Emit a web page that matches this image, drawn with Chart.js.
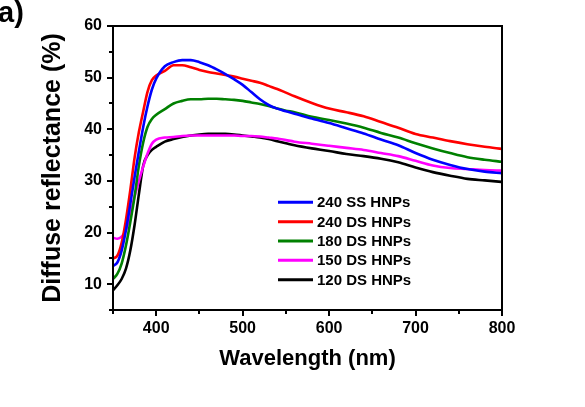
<!DOCTYPE html>
<html>
<head>
<meta charset="utf-8">
<script src="https://cdn.jsdelivr.net/npm/chart.js@4"></script>
<style>
  html, body { margin: 0; padding: 0; background: #fff; }
  #wrap { position: relative; width: 585px; height: 407px; }
  #panel { position: absolute; left: -2px; top: -4px; font: bold 29px "Liberation Sans", Arial, sans-serif; }
</style>
</head>
<body>
<div id="wrap">
  <canvas id="chart" width="585" height="407"></canvas>
  <div id="panel">a)</div>
</div>
<script>
const wavelengths = [350, 355, 360, 365, 370, 375, 380, 385, 390, 395,
  400, 410, 420, 430, 440, 450, 460, 470, 480, 490, 500, 510, 520, 530, 540, 550, 560,
  580, 600, 620, 640, 660, 680, 700, 720, 740, 760, 780, 800];

const ss240 = [13.5, 14.2, 16.5, 20.5, 25.5, 30.8, 35.8, 40.5, 44.5, 47.7,
  49.8, 52.2, 53.0, 53.4, 53.4, 53.0, 52.4, 51.6, 50.7, 49.7, 48.6, 47.2, 45.8, 44.7, 44.0, 43.5, 43.0,
  42.1, 41.2, 40.2, 39.2, 38.0, 36.9, 35.4, 34.1, 33.1, 32.3, 31.8, 31.5];
const ds240 = [15.0, 15.5, 18.0, 22.5, 28.2, 34.5, 39.5, 43.5, 47.3, 49.5,
  50.4, 51.3, 52.4, 52.4, 52.0, 51.5, 51.1, 50.8, 50.5, 50.2, 49.8, 49.4, 49.0, 48.4, 47.8, 47.1, 46.4,
  45.1, 44.0, 43.3, 42.5, 41.4, 40.3, 39.1, 38.4, 37.7, 37.1, 36.6, 36.2];
const ds180 = [11.0, 12.0, 14.0, 17.5, 22.0, 27.0, 33.0, 37.5, 40.5, 42.0,
  42.8, 43.9, 45.0, 45.5, 45.8, 45.8, 45.9, 45.9, 45.8, 45.7, 45.5, 45.2, 44.9, 44.5, 44.0, 43.6, 43.3,
  42.4, 41.8, 41.1, 40.3, 39.3, 38.4, 37.3, 36.3, 35.4, 34.6, 34.1, 33.7];
const ds150 = [19.0, 18.8, 19.2, 20.5, 23.5, 27.0, 30.0, 32.8, 35.3, 37.2,
  38.0, 38.4, 38.5, 38.7, 38.8, 38.8, 38.8, 38.8, 38.8, 38.8, 38.7, 38.7, 38.6, 38.4, 38.2, 37.9, 37.6,
  37.2, 36.8, 36.4, 36.0, 35.4, 34.8, 33.9, 33.0, 32.5, 32.3, 32.1, 32.0];
const ds120 = [8.8, 9.8, 11.0, 13.0, 16.5, 21.5, 27.5, 33.0, 35.0, 36.0,
  36.6, 37.6, 38.1, 38.5, 38.8, 39.0, 39.1, 39.1, 39.1, 39.0, 38.8, 38.6, 38.4, 38.1, 37.7, 37.3, 36.9,
  36.3, 35.8, 35.2, 34.8, 34.3, 33.6, 32.6, 31.7, 31.0, 30.4, 30.1, 29.8];

const labels = ["240 SS HNPs", "240 DS HNPs", "180 DS HNPs", "150 DS HNPs", "120 DS HNPs"];
const series = [ss240, ds240, ds180, ds150, ds120];
const colors = ["#0000ff", "#ff0000", "#008000", "#ff00ff", "#000000"];

const font = '"Liberation Sans", Arial, sans-serif';

function points(vals) {
  return vals.map((v, i) => ({ x: wavelengths[i], y: v }));
}

const isMajorX = v => v % 100 === 0;
const isMajorY = v => v % 10 === 0;

// box round the plot, short minor ticks, legend inside
const frameAndLegend = {
  id: "frameAndLegend",
  afterDraw(chart) {
    const c = chart.ctx, a = chart.chartArea;
    const xs = chart.scales.x, ys = chart.scales.y;
    c.save();
    c.strokeStyle = "#000";
    c.lineWidth = 2;
    c.strokeRect(a.left, a.top, a.right - a.left, a.bottom - a.top);

    c.beginPath();
    xs.ticks.forEach(t => {
      if (isMajorX(t.value)) return;
      const px = Math.round(xs.getPixelForValue(t.value));
      c.moveTo(px, a.bottom);
      c.lineTo(px, a.bottom + 4);
    });
    ys.ticks.forEach(t => {
      if (isMajorY(t.value)) return;
      const py = Math.round(ys.getPixelForValue(t.value));
      c.moveTo(a.left, py);
      c.lineTo(a.left - 4, py);
    });
    c.stroke();

    c.font = "bold 15px " + font;
    c.textBaseline = "middle";
    chart.data.datasets.forEach((ds, i) => {
      const y = 202.3 + i * 19.35;
      c.strokeStyle = ds.borderColor;
      c.lineWidth = 3;
      c.beginPath();
      c.moveTo(278, y);
      c.lineTo(313, y);
      c.stroke();
      c.fillStyle = "#000";
      c.fillText(ds.label, 317, y + 1);
    });
    c.restore();
  }
};

new Chart(document.getElementById("chart"), {
  type: "line",
  data: {
    datasets: series.map((s, i) => ({
      label: labels[i],
      data: points(s),
      borderColor: colors[i],
      borderWidth: 2.6,
      pointRadius: 0,
      cubicInterpolationMode: "monotone",
      fill: false
    }))
  },
  options: {
    responsive: false,
    animation: false,
    devicePixelRatio: 1,
    layout: { padding: { top: 26, right: 83, left: 0, bottom: 0 } },
    plugins: { legend: { display: false }, tooltip: { enabled: false } },
    scales: {
      x: {
        type: "linear",
        min: 350,
        max: 800,
        afterFit: s => { s.height = 97; },
        border: { display: true, color: "#000", width: 2 },
        grid: {
          drawOnChartArea: false, drawTicks: true, tickLength: 6, lineWidth: 2,
          tickColor: ctx => (isMajorX(ctx.tick.value) ? "#000" : "rgba(0,0,0,0)")
        },
        ticks: {
          stepSize: 50,
          autoSkip: false,
          maxRotation: 0,
          padding: 3,
          color: "#000",
          font: { family: font, size: 16, weight: "bold" },
          callback: v => (isMajorX(v) ? v : "")
        },
        title: {
          display: true,
          text: "Wavelength (nm)",
          color: "#000",
          font: { family: font, size: 22, weight: "bold" },
          padding: { bottom: 35 }
        }
      },
      y: {
        min: 5,
        max: 60,
        afterFit: s => { s.width = 113; },
        border: { display: true, color: "#000", width: 2 },
        grid: {
          drawOnChartArea: false, drawTicks: true, tickLength: 6, lineWidth: 2,
          tickColor: ctx => (isMajorY(ctx.tick.value) ? "#000" : "rgba(0,0,0,0)")
        },
        ticks: {
          stepSize: 5,
          autoSkip: false,
          padding: 5,
          color: "#000",
          font: { family: font, size: 16, weight: "bold" },
          callback: v => (isMajorY(v) ? v : "")
        },
        title: {
          display: true,
          text: "Diffuse reflectance (%)",
          color: "#000",
          font: { family: font, size: 25, weight: "bold" },
          padding: { top: 38 }
        }
      }
    }
  },
  plugins: [frameAndLegend]
});
</script>
</body>
</html>
